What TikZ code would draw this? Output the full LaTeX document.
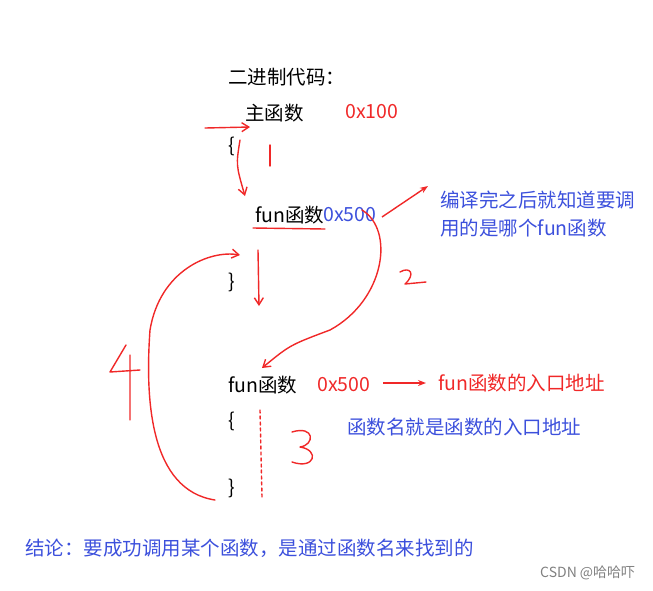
\documentclass[tikz,border=0pt]{standalone}
\usepackage{fontspec}
\setmainfont{Noto Sans CJK SC}
\usetikzlibrary{arrows.meta}
\definecolor{rd}{RGB}{240,40,40}
\definecolor{bl}{RGB}{60,80,220}
\tikzset{x=1pt,y=-1pt,
 t/.style={anchor=west,inner sep=0,font=\fontsize{19.5}{28}\selectfont},
 pen/.style={draw=rd,line width=1.4pt,line cap=round,line join=round},
 ar/.style={pen,-{Straight Barb[length=7pt,width=9pt]}}}
\begin{document}
\begin{tikzpicture}
\useasboundingbox (0,0) rectangle (653,590);
\node[t] (bin) at (228,77) {二进制代码：};
\node[t] (main) at (245,113) {主函数};
\node[t,text=rd] (a100) at (345,112) {0x100};
\node[t] (ob1) at (228,146) {\{};
\node[t] (fun1) at (255,215) {fun函数};
\node[t,text=bl] (a500a) at (323,215) {0x500};
\node[t,text=bl,align=left] (note1) at (440,214) {编译完之后就知道要调\\用的是哪个fun函数};
\node[t] (cb1) at (228,282) {\}};
\node[t] (fun2) at (228,385) {fun函数};
\node[t,text=rd] (a500b) at (317,385) {0x500};
\node[t,text=rd] (entry) at (438,383) {fun函数的入口地址};
\node[t,text=bl] (note2) at (347,427) {函数名就是函数的入口地址};
\node[t] (ob2) at (228,421) {\{};
\node[t] (cb2) at (228,488) {\}};
\node[t,text=bl] (concl) at (25,548) {结论：要成功调用某个函数，是通过函数名来找到的};
\node[t,text=gray,font=\fontsize{14}{16}\selectfont] (wm) at (540,573) {CSDN @哈哈吓};
\draw[ar] (205,128) -- (250,127);
\draw[pen] (270,145) -- (270,166);
\draw[ar] (240,140) .. controls (236,165) .. (245,196);
\draw[pen] (253,228) -- (325,229);
\draw[ar] (258,250) -- (259,306);
\draw[ar] (362,210) .. controls (395,230) and (385,300) .. (330,330) .. controls (290,345) .. (262,368);
\draw[pen] (400,272) .. controls (410,266) and (416,274) .. (405,284) -- (426,282);
\draw[pen] (126,345) -- (110,372) -- (140,370) (130,355) -- (130,420);
\draw[ar] (215,500) .. controls (150,490) and (145,400) .. (150,330) .. controls (160,270) and (210,250) .. (240,255);
\draw[pen,dashed] (260,410) -- (262,497);
\draw[pen] (292,432) .. controls (315,425) and (315,445) .. (300,447) .. controls (320,450) and (315,470) .. (292,462);
\draw[draw=rd,line width=1.4pt,-{Stealth[length=8pt]}] (383,383) -- (426,383);
\draw[draw=rd,line width=1.4pt,-{Stealth[length=8pt]}] (382,217) -- (428,186);
\end{tikzpicture}
\end{document}
